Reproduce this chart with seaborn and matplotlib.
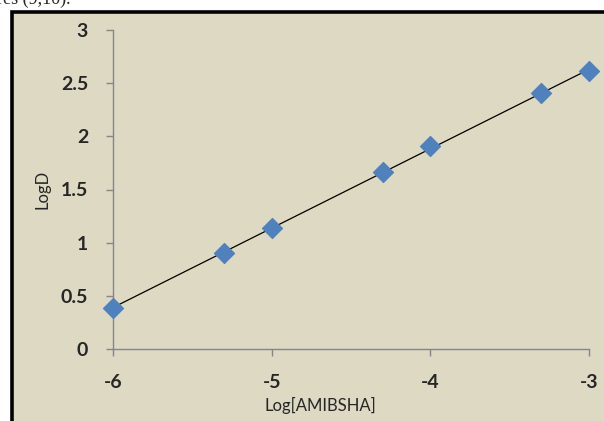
import numpy as np
import pandas as pd
import matplotlib
matplotlib.use("Agg")
import matplotlib.pyplot as plt
import matplotlib.ticker as mticker
from matplotlib.patches import Rectangle
import seaborn as sns

# data
log_conc = [-6.0, -5.3, -5.0, -4.3, -4.0, -3.3, -3.0]
log_d = [0.386, 0.906, 1.135, 1.66, 1.91, 2.41, 2.61]
x_ticks = [-6, -5, -4, -3]
y_ticks = [0, 0.5, 1, 1.5, 2, 2.5, 3]

df = pd.DataFrame({"x": log_conc, "y": log_d})

sns.set_theme(style="ticks")
plt.rcParams["font.family"] = ["Lato", "DejaVu Sans"]
plt.rcParams["axes.unicode_minus"] = False

bg = "#DDD9C3"
fig = plt.figure(figsize=(6.04, 4.21), dpi=100, facecolor="white")

# black frame around the chart area
W, H = 604, 421
frame = Rectangle((11.5 / W, -0.2), 1.0, 1.2 - 11.5 / H, transform=fig.transFigure,
                  facecolor=bg, edgecolor="black", linewidth=2.6, zorder=0)
fig.add_artist(frame)
# tail of the caption text above the chart, cut by the page edge
fig.text(-0.005, 1 - 4 / H, "res (9,10).", family="Liberation Serif", fontsize=13,
         va="baseline", ha="left")

ax = fig.add_axes([113 / W, 1 - 349 / H, (589 - 113) / W, (349 - 30) / H])
ax.set_facecolor("none")

sns.regplot(data=df, x="x", y="y", scatter=False, ci=None, ax=ax,
            line_kws={"color": "black", "linewidth": 0.9})
sns.scatterplot(data=df, x="x", y="y", marker="D", s=105, color="#4F81BD",
                edgecolor="#4F81BD", ax=ax, zorder=3, clip_on=False)

ax.set_xlim(-6, -3)
ax.set_ylim(0, 3)
ax.set_xticks(x_ticks)
ax.set_yticks(y_ticks)
fmt = mticker.FuncFormatter(lambda v, p: f"{v:g}")
ax.xaxis.set_major_formatter(fmt)
ax.yaxis.set_major_formatter(fmt)

for s in ["top", "right"]:
    ax.spines[s].set_visible(False)
for s in ["left", "bottom"]:
    ax.spines[s].set_color("#868686")
    ax.spines[s].set_linewidth(1.0)
ax.tick_params(axis="both", direction="out", length=5, width=1.0, color="#868686",
               labelsize=14, pad=13)
for lbl in ax.get_xticklabels() + ax.get_yticklabels():
    lbl.set_fontweight("bold")

ax.set_xlabel("Log[AMIBSHA]", fontsize=12)
ax.set_ylabel("LogD", fontsize=12)
ax.xaxis.set_label_coords((320 - 113) / (589 - 113), -(397 - 349) / (349 - 30))
ax.yaxis.set_label_coords(-(113 - 51) / (589 - 113), 0.5)

plt.savefig("out.png", dpi=100, facecolor="white")
plt.close()
